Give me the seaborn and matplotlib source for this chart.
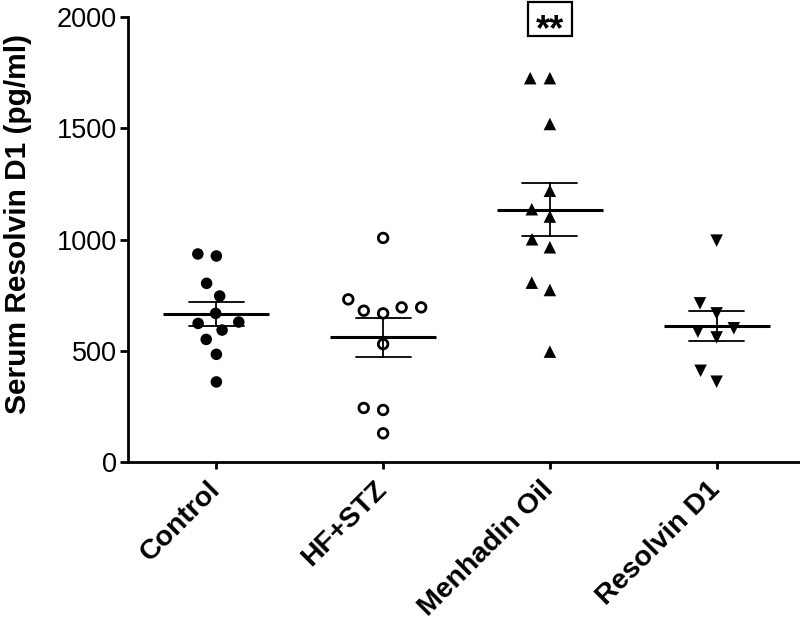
import matplotlib
matplotlib.use("Agg")
import matplotlib.pyplot as plt
import numpy as np
import pandas as pd
import seaborn as sns
from matplotlib.path import Path
from matplotlib.patches import Rectangle

# Serum Resolvin D1 (pg/ml)
groups = ["Control", "HF+STZ", "Menhadin Oil", "Resolvin D1"]
control = [926, 935, 803, 746, 668, 629, 623, 593, 551, 484, 360]
hf_stz = [1007, 731, 695, 695, 680, 668, 530, 243, 234, 129]
menhadin = [1725, 1725, 1519, 1219, 1136, 1103, 1001, 965, 806, 773, 496]
resolvin = [995, 713, 668, 601, 586, 560, 410, 361]
yticks = [0, 500, 1000, 1500, 2000]
signif_label = "**"

df = pd.DataFrame({
    "group": ["Control"] * len(control) + ["HF+STZ"] * len(hf_stz)
    + ["Menhadin Oil"] * len(menhadin) + ["Resolvin D1"] * len(resolvin),
    "value": control + hf_stz + menhadin + resolvin,
})

sns.set_style("ticks")
plt.rcParams["font.family"] = ["Liberation Sans", "DejaVu Sans"]
for key in ["text.color", "axes.labelcolor", "xtick.color", "ytick.color", "axes.edgecolor"]:
    plt.rcParams[key] = "black"

# open circle as a filled ring, so the (invisible) edge width only spaces the swarm
t = np.linspace(0, 2 * np.pi, 64)
outer = np.c_[np.cos(t), np.sin(t)]
inner = 0.55 * outer[::-1]
ring_verts = np.vstack([outer, inner])
ring_codes = ([Path.MOVETO] + [Path.LINETO] * 62 + [Path.CLOSEPOLY]) * 2
ring = Path(ring_verts, ring_codes)

fig = plt.figure(figsize=(8, 6.2), dpi=100)
ax = fig.add_axes([0.16, 0.2548, 0.84, 0.7178])

styles = {
    "Control": dict(marker="o", size=8.3),
    "HF+STZ": dict(marker=ring, size=8.9),
    "Menhadin Oil": dict(marker="^", size=9),
    "Resolvin D1": dict(marker="v", size=9),
}
for g in groups:
    sns.swarmplot(data=df[df["group"] == g], x="group", y="value", order=groups,
                  color="black", edgecolor="none", linewidth=4.5,
                  ax=ax, zorder=2, **styles[g])

# mean +/- SEM
sns.pointplot(data=df, x="group", y="value", order=groups, errorbar="se",
              capsize=0.33, color="black", linestyle="none", markers="_",
              markersize=77, markeredgewidth=2.2,
              err_kws={"linewidth": 1.3}, ax=ax, zorder=3)

ax.set_xlim(-0.53, 3.5)
ax.set_ylim(0, 2000)
ax.set_yticks(yticks)
ax.set_xticks(range(len(groups)))
ax.set_xticklabels(groups, rotation=45, ha="right", va="center",
                   rotation_mode="anchor", fontweight="bold", fontsize=20.5)
ax.tick_params(axis="y", length=6, width=2, labelsize=19.5, pad=2)
ax.tick_params(axis="x", length=5, width=2, pad=12)
ax.set_xlabel("")
ax.set_ylabel("Serum Resolvin D1 (pg/ml)", fontweight="bold", fontsize=21.5)
ax.yaxis.set_label_coords(-0.143, 0.535)
sns.despine(ax=ax)
for side in ["left", "bottom"]:
    ax.spines[side].set_linewidth(2)

# significance box above Menhadin Oil
ax.add_patch(Rectangle((1.868, 1915), 0.264, 153, facecolor="white",
                       edgecolor="black", linewidth=1.6, clip_on=False, zorder=4))
ax.text(2, 1898, signif_label, ha="center", va="baseline", fontsize=26,
        fontweight="bold", clip_on=False, zorder=5)

fig.savefig("out.png", dpi=100)
